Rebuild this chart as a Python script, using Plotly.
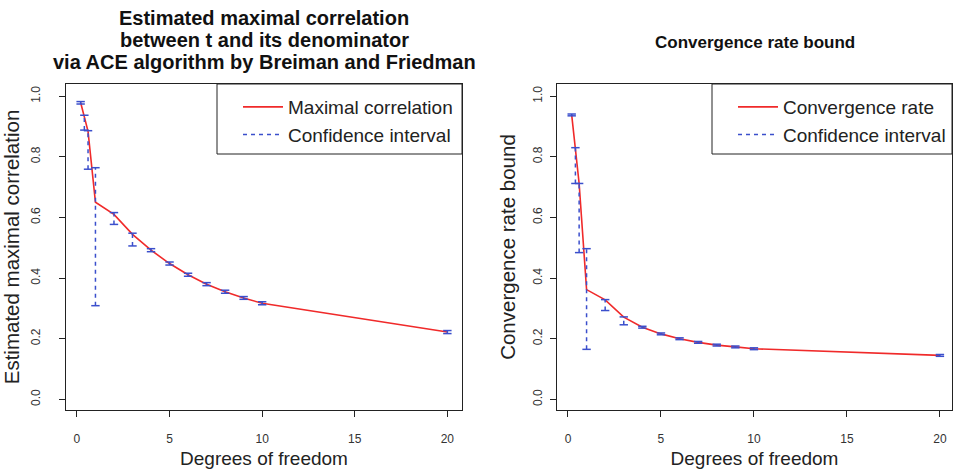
import plotly.graph_objects as go

W, H = 954, 469

# Degrees of freedom evaluated
dof = [0.2, 0.4, 0.6, 1, 2, 3, 4, 5, 6, 7, 8, 9, 10, 20]

# Estimated maximal correlation (ACE) with confidence limits
corr_est = [0.979, 0.933, 0.884, 0.650, 0.610, 0.544, 0.492, 0.448, 0.411, 0.380, 0.355, 0.334, 0.317, 0.222]
corr_lo = [0.974, 0.888, 0.759, 0.309, 0.577, 0.506, 0.487, 0.443, 0.406, 0.375, 0.350, 0.330, 0.312, 0.217]
corr_hi = [0.982, 0.937, 0.886, 0.764, 0.616, 0.548, 0.497, 0.453, 0.416, 0.385, 0.360, 0.339, 0.322, 0.227]

# Convergence rate bound with confidence limits
rate_est = [0.938, 0.830, 0.712, 0.362, 0.328, 0.271, 0.238, 0.216, 0.200, 0.188, 0.179, 0.173, 0.167, 0.145]
rate_lo = [0.935, 0.712, 0.484, 0.165, 0.293, 0.246, 0.235, 0.213, 0.197, 0.185, 0.176, 0.170, 0.164, 0.142]
rate_hi = [0.941, 0.830, 0.712, 0.497, 0.329, 0.272, 0.241, 0.219, 0.203, 0.191, 0.182, 0.176, 0.170, 0.148]

x_ticks = [0, 5, 10, 15, 20]
y_ticks = [0.0, 0.2, 0.4, 0.6, 0.8, 1.0]
y_tick_labels = ["0.0", "0.2", "0.4", "0.6", "0.8", "1.0"]

FONT = "Liberation Sans, Arial, Helvetica, sans-serif"
RED = "#f02a2a"
BLUE = "#3b4fcc"
INK = "#222222"


def px_x(p):
    return p / W


def px_y(p):
    return 1 - p / H


def segments(xs, lo, hi):
    sx, sy = [], []
    for x, a, b in zip(xs, lo, hi):
        sx += [x, x, None]
        sy += [a, b, None]
    return sx, sy


fig = go.Figure()


def add_panel(est, lo, hi, name, xa, ya, legend):
    fig.add_trace(go.Scatter(
        x=dof, y=est, mode="lines", name=name,
        line=dict(color=RED, width=1.6),
        xaxis=xa, yaxis=ya, legend=legend, legendrank=1,
    ))
    sx, sy = segments(dof, lo, hi)
    fig.add_trace(go.Scatter(
        x=sx, y=sy, mode="lines", name="Confidence interval",
        line=dict(color=BLUE, width=1.5, dash="4px,4px"),
        xaxis=xa, yaxis=ya, legend=legend, legendrank=2,
    ))
    fig.add_trace(go.Scatter(
        x=dof + dof, y=lo + hi, mode="markers", showlegend=False,
        marker=dict(symbol="line-ew", size=6,
                    line=dict(color=BLUE, width=1.5)),
        xaxis=xa, yaxis=ya,
    ))


add_panel(corr_est, corr_lo, corr_hi, "Maximal correlation", "x", "y", "legend")
add_panel(rate_est, rate_lo, rate_hi, "Convergence rate", "x2", "y2", "legend2")

y_dom = [px_y(410), px_y(84)]

xaxis_common = dict(
    tickvals=x_ticks, ticks="outside", ticklen=6,
    tickcolor=INK, tickwidth=1, showline=True, linecolor=INK, linewidth=1,
    mirror=True, showgrid=False, zeroline=False, ticklabelstandoff=12,
    tickfont=dict(family=FONT, size=12, color="#333"),
)
yaxis_common = dict(
    range=[-0.035, 1.04], tickvals=y_ticks, ticktext=y_tick_labels,
    tickangle=-90, ticks="outside", ticklen=6, tickcolor=INK, tickwidth=1,
    showline=True, linecolor=INK, linewidth=1, mirror=True, showgrid=False,
    zeroline=False, tickfont=dict(family=FONT, size=12, color="#333"),
)

fig.update_layout(
    width=W, height=H,
    margin=dict(l=0, r=0, t=0, b=0),
    paper_bgcolor="white", plot_bgcolor="white",
    font=dict(family=FONT, color=INK),
    xaxis=dict(xaxis_common, range=[-0.59, 20.79],
               domain=[px_x(66), px_x(462)], anchor="y",
               title=dict(text="Degrees of freedom", standoff=6,
                          font=dict(family=FONT, size=19, color=INK))),
    yaxis=dict(yaxis_common, domain=y_dom, anchor="x", ticklabelstandoff=14,
               title=dict(text="Estimated maximal correlation", standoff=8,
                          font=dict(family=FONT, size=20.5, color=INK))),
    xaxis2=dict(xaxis_common, range=[-0.59, 20.65],
                domain=[px_x(557), px_x(952)], anchor="y2",
                title=dict(text="Degrees of freedom", standoff=6,
                           font=dict(family=FONT, size=19, color=INK))),
    yaxis2=dict(yaxis_common, domain=y_dom, anchor="x2", ticklabelstandoff=3,
                title=dict(text="Convergence rate bound", standoff=10,
                           font=dict(family=FONT, size=20.5, color=INK))),
    legend=dict(x=px_x(238), y=px_y(88), xanchor="left", yanchor="top",
                bgcolor="rgba(0,0,0,0)", borderwidth=0, itemwidth=40,
                font=dict(family=FONT, size=19, color=INK)),
    legend2=dict(x=px_x(733), y=px_y(88), xanchor="left", yanchor="top",
                 bgcolor="rgba(0,0,0,0)", borderwidth=0, itemwidth=40,
                 font=dict(family=FONT, size=19, color=INK)),
    showlegend=True,
)

# Legend frames
fig.add_shape(type="rect", xref="paper", yref="paper",
              x0=px_x(217), x1=px_x(462), y0=px_y(154), y1=px_y(84),
              line=dict(color=INK, width=1))
fig.add_shape(type="rect", xref="paper", yref="paper",
              x0=px_x(712), x1=px_x(952), y0=px_y(154), y1=px_y(84),
              line=dict(color=INK, width=1))

# Panel titles
left_font = dict(family=FONT, size=20, color="#111", weight="bold")
right_font = dict(family=FONT, size=17, color="#111", weight="bold")
left_title = ["Estimated maximal correlation",
              "between t and its denominator",
              "via ACE algorithm by Breiman and Friedman"]
for line, ypx in zip(left_title, [18, 40, 62]):
    fig.add_annotation(text=line, x=px_x(264), y=px_y(ypx), xref="paper",
                       yref="paper", showarrow=False, xanchor="center",
                       yanchor="middle", font=left_font)
fig.add_annotation(text="Convergence rate bound", x=px_x(754.5), y=px_y(43),
                   xref="paper", yref="paper", showarrow=False,
                   xanchor="center", yanchor="middle", font=right_font)

fig.write_html("out.html")
